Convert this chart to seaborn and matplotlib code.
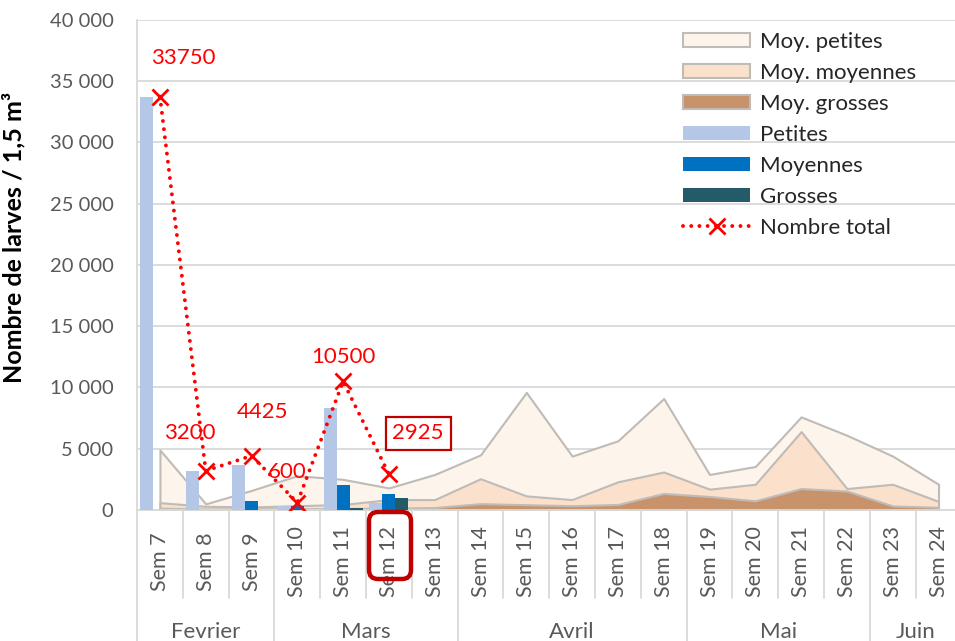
import matplotlib

matplotlib.use("Agg")
import matplotlib.pyplot as plt
import numpy as np
import pandas as pd
import seaborn as sns
from matplotlib.lines import Line2D
from matplotlib.patches import FancyBboxPatch, Patch
from matplotlib.ticker import FuncFormatter

# --- données ---
weeks = ["Sem 7", "Sem 8", "Sem 9", "Sem 10", "Sem 11", "Sem 12", "Sem 13",
         "Sem 14", "Sem 15", "Sem 16", "Sem 17", "Sem 18", "Sem 19", "Sem 20",
         "Sem 21", "Sem 22", "Sem 23", "Sem 24"]
months = ["Fevrier", "Mars", "Avril", "Mai", "Juin"]
month_nweeks = [3, 4, 5, 4, 2]

# moyennes (aires)
moy_petites = [4900, 500, 1600, 2800, 2500, 1800, 2900, 4500, 9600, 4400,
               5650, 9100, 2900, 3550, 7600, 6100, 4400, 2100]
moy_moyennes = [600, 300, 250, 350, 450, 850, 850, 2550, 1150, 850,
                2300, 3100, 1700, 2100, 6400, 1750, 2100, 700]
moy_grosses = [150, 80, 100, 100, 120, 150, 200, 520, 430, 350,
               450, 1350, 1100, 750, 1750, 1550, 330, 220]

# comptages de l'année (Sem 7 à Sem 12)
obs_weeks = ["Sem 7", "Sem 8", "Sem 9", "Sem 10", "Sem 11", "Sem 12"]
petites = [33750, 3200, 3700, 300, 8325, 600]
moyennes = [0, 0, 725, 300, 2000, 1325]
grosses = [0, 0, 0, 0, 175, 1000]
total = [33750, 3200, 4425, 600, 10500, 2925]

# décalage des étiquettes (points)
label_offsets = [(16.5, 28), (-11.5, 27.4), (8, 31.7), (-7, 22.3), (0, 17.3), (21, 29.5)]

sns.set_theme(style="whitegrid")
plt.rcParams["font.family"] = ["Lato", "DejaVu Sans"]

GREY_TXT = "#595959"
GRID = "#D9D9D9"
AREA_EDGE = "#BFBBB7"
AREA_COLORS = {"Moy. petites": "#FDF4EC", "Moy. moyennes": "#FBE1CB", "Moy. grosses": "#C8926A"}
BAR_COLORS = {"Petites": "#B4C7E7", "Moyennes": "#0070C0", "Grosses": "#245B69"}
RED = "#FF0000"
DOTS = (0, (0.01, 2.1))

fig, ax = plt.subplots(figsize=(9.55, 6.41), dpi=100)
fig.subplots_adjust(left=0.1435, right=1.0, bottom=0.2044, top=0.9688)

x = np.arange(len(weeks))
for name, vals in [("Moy. petites", moy_petites), ("Moy. moyennes", moy_moyennes),
                   ("Moy. grosses", moy_grosses)]:
    ax.fill_between(x, 0, vals, facecolor=AREA_COLORS[name], edgecolor=AREA_EDGE,
                    linewidth=1.5, zorder=2)

bars = pd.DataFrame({
    "Semaine": obs_weeks * 3,
    "Classe": ["Petites"] * 6 + ["Moyennes"] * 6 + ["Grosses"] * 6,
    "Nombre": petites + moyennes + grosses,
})
sns.barplot(data=bars, x="Semaine", y="Nombre", hue="Classe", order=weeks,
            hue_order=list(BAR_COLORS), palette=BAR_COLORS, saturation=1,
            width=0.85, gap=0, errorbar=None, linewidth=0, legend=False, ax=ax, zorder=3)

ax.plot(np.arange(len(total)), total, color=RED, linestyle=DOTS, linewidth=2.8,
        dash_capstyle="round", marker="x", markersize=11, markeredgewidth=2, zorder=5)

for i, (v, off) in enumerate(zip(total, label_offsets)):
    kw = {}
    if v == 2925:
        kw["bbox"] = dict(boxstyle="square,pad=0.3", fc="white", ec="#C00000", lw=1.6)
    ax.annotate(str(v), (i, v), xytext=off, textcoords="offset points", ha="center",
                va="center", color=RED, fontsize=16, zorder=6, **kw)

# axes
ax.set_ylim(0, 40000)
ax.set_yticks(np.arange(0, 40001, 5000))
ax.yaxis.set_major_formatter(FuncFormatter(lambda v, p: f"{int(v):,}".replace(",", " ")))
ax.set_xlim(-0.5, 17.36)
ax.set_xticks(x)
ax.set_xticklabels(weeks, rotation=90, va="center")
ax.tick_params(axis="x", length=0, pad=37, labelsize=15.5, labelcolor=GREY_TXT)
ax.tick_params(axis="y", length=0, pad=17, labelsize=14.5, labelcolor=GREY_TXT)
ax.grid(axis="y", color=GRID, linewidth=1.3)
ax.grid(axis="x", visible=False)
ax.set_axisbelow(True)
for s in ["top", "right"]:
    ax.spines[s].set_visible(False)
for s in ["left", "bottom"]:
    ax.spines[s].set_color(GRID)
    ax.spines[s].set_linewidth(1.3)
ax.set_xlabel("")
ax.set_ylabel("Nombre de larves / 1,5 m³", fontsize=18, fontweight="bold", color="black")
ax.yaxis.set_label_coords(-0.136, 0.557)

# séparateurs semaines / mois sous l'axe
trans = ax.get_xaxis_transform()
bounds = np.cumsum([0] + month_nweeks) - 0.5
for b in np.arange(-0.5, len(weeks)):
    y_end = -0.267 if b in bounds else -0.18
    ax.plot([b, b], [0, y_end], transform=trans, color=GRID, linewidth=1.3, clip_on=False)
start = -0.5
for m, n in zip(months, month_nweeks):
    ax.text(start + n / 2, -0.249, m, transform=trans, ha="center", va="center",
            fontsize=16, color=GREY_TXT, clip_on=False)
    start += n

# encadré Sem 12
fig.patches.append(FancyBboxPatch((3.69, 0.62), 0.42, 0.67,
                                  boxstyle="round,pad=0,rounding_size=0.09",
                                  transform=fig.dpi_scale_trans, fc="none",
                                  ec="#C00000", lw=3.2))

# légende
handles = [Patch(facecolor=c, edgecolor=AREA_EDGE, linewidth=1.5, label=k)
           for k, c in AREA_COLORS.items()]
handles += [Patch(facecolor=c, edgecolor="none", label=k) for k, c in BAR_COLORS.items()]
handles.append(Line2D([], [], color=RED, linestyle=DOTS, linewidth=2.8,
                      dash_capstyle="round", marker="x", markersize=11,
                      markeredgewidth=2, label="Nombre total"))
ax.legend(handles=handles, loc="upper left", bbox_to_anchor=(0.668, 0.975),
          frameon=False, fontsize=16, handlelength=3.0, handleheight=0.6,
          handletextpad=0.45, labelspacing=0.49, borderpad=0, borderaxespad=0)

fig.savefig("out.png", dpi=100)
